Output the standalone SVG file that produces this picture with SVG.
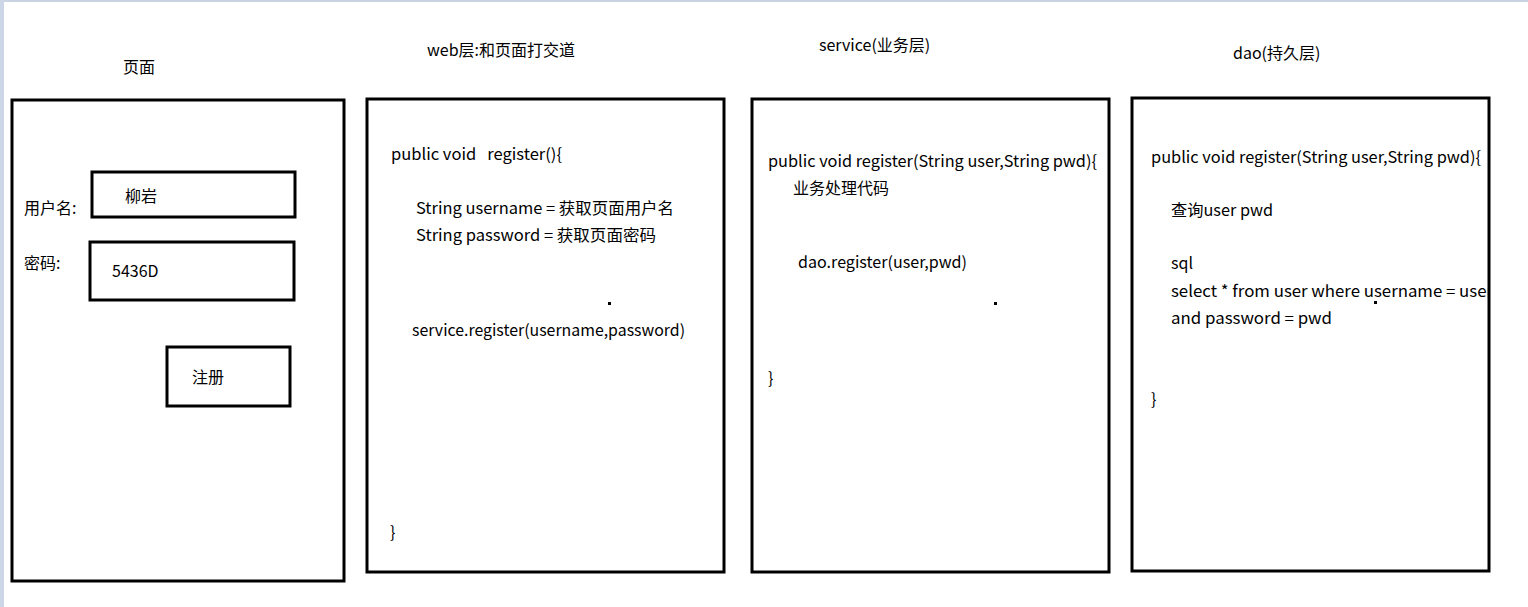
<svg xmlns="http://www.w3.org/2000/svg" width="1528" height="607" viewBox="0 0 1528 607">
<style>
.box{fill:none;stroke:#000;stroke-width:3}
.t{font-family:"Noto Sans CJK SC","Noto Sans",sans-serif;font-size:16px;fill:#000;white-space:pre}
.dot{fill:#000}
</style>
<defs>
<clipPath id="daoClip"><rect x="1132" y="98" width="356" height="472"/></clipPath>
</defs>
<rect x="0" y="0" width="1528" height="607" fill="#fff"/>
<rect x="0" y="0" width="1528" height="2" fill="#c9d3e4"/>
<rect x="0" y="0" width="4" height="607" fill="#cdd6e6"/>

<g id="page">
<text class="t" x="123" y="73">页面</text>
<rect class="box" x="12" y="100" width="332" height="481"/>
<text class="t" x="24" y="214">用户名:</text>
<rect class="box" x="92" y="172" width="203" height="45"/>
<text class="t" x="125" y="202">柳岩</text>
<text class="t" x="24" y="269">密码:</text>
<rect class="box" x="90" y="242" width="204" height="58"/>
<text class="t" x="112" y="277">5436D</text>
<rect class="box" x="167" y="347" width="123" height="59"/>
<text class="t" x="192" y="383">注册</text>
</g>

<g id="web">
<text class="t" x="427" y="56">web层:和页面打交道</text>
<rect class="box" x="367" y="99" width="357" height="473"/>
<text class="t" x="391" y="160" textLength="171" lengthAdjust="spacingAndGlyphs">public void   register(){</text>
<text class="t" x="416" y="214" textLength="258" lengthAdjust="spacingAndGlyphs">String username = 获取页面用户名</text>
<text class="t" x="416" y="241" textLength="240" lengthAdjust="spacingAndGlyphs">String password = 获取页面密码</text>
<text class="t" x="412" y="336" textLength="273" lengthAdjust="spacingAndGlyphs">service.register(username,password)</text>
<text class="t" x="390" y="538">}</text>
<rect class="dot" x="608" y="302" width="3" height="3"/>
</g>

<g id="service">
<text class="t" x="819" y="51">service(业务层)</text>
<rect class="box" x="752" y="99" width="357" height="473"/>
<text class="t" x="768" y="167" textLength="329" lengthAdjust="spacingAndGlyphs">public void register(String user,String pwd){</text>
<text class="t" x="793" y="194">业务处理代码</text>
<text class="t" x="798" y="268" textLength="169" lengthAdjust="spacingAndGlyphs">dao.register(user,pwd)</text>
<text class="t" x="768" y="384">}</text>
<rect class="dot" x="994" y="302" width="3" height="3"/>
</g>

<g id="dao">
<text class="t" x="1233" y="59">dao(持久层)</text>
<rect class="box" x="1132" y="98" width="357" height="473"/>
<text class="t" x="1151" y="163" textLength="330" lengthAdjust="spacingAndGlyphs">public void register(String user,String pwd){</text>
<text class="t" x="1171" y="216" textLength="102" lengthAdjust="spacingAndGlyphs">查询user pwd</text>
<text class="t" x="1171" y="269">sql</text>
<g clip-path="url(#daoClip)">
<text class="t" x="1171" y="297" textLength="322" lengthAdjust="spacingAndGlyphs">select * from user where username = user</text>
</g>
<text class="t" x="1171" y="324" textLength="161" lengthAdjust="spacingAndGlyphs">and password = pwd</text>
<text class="t" x="1151" y="405">}</text>
<rect class="dot" x="1374" y="301" width="3" height="3"/>
</g>

<g id="connectors"></g>
</svg>
